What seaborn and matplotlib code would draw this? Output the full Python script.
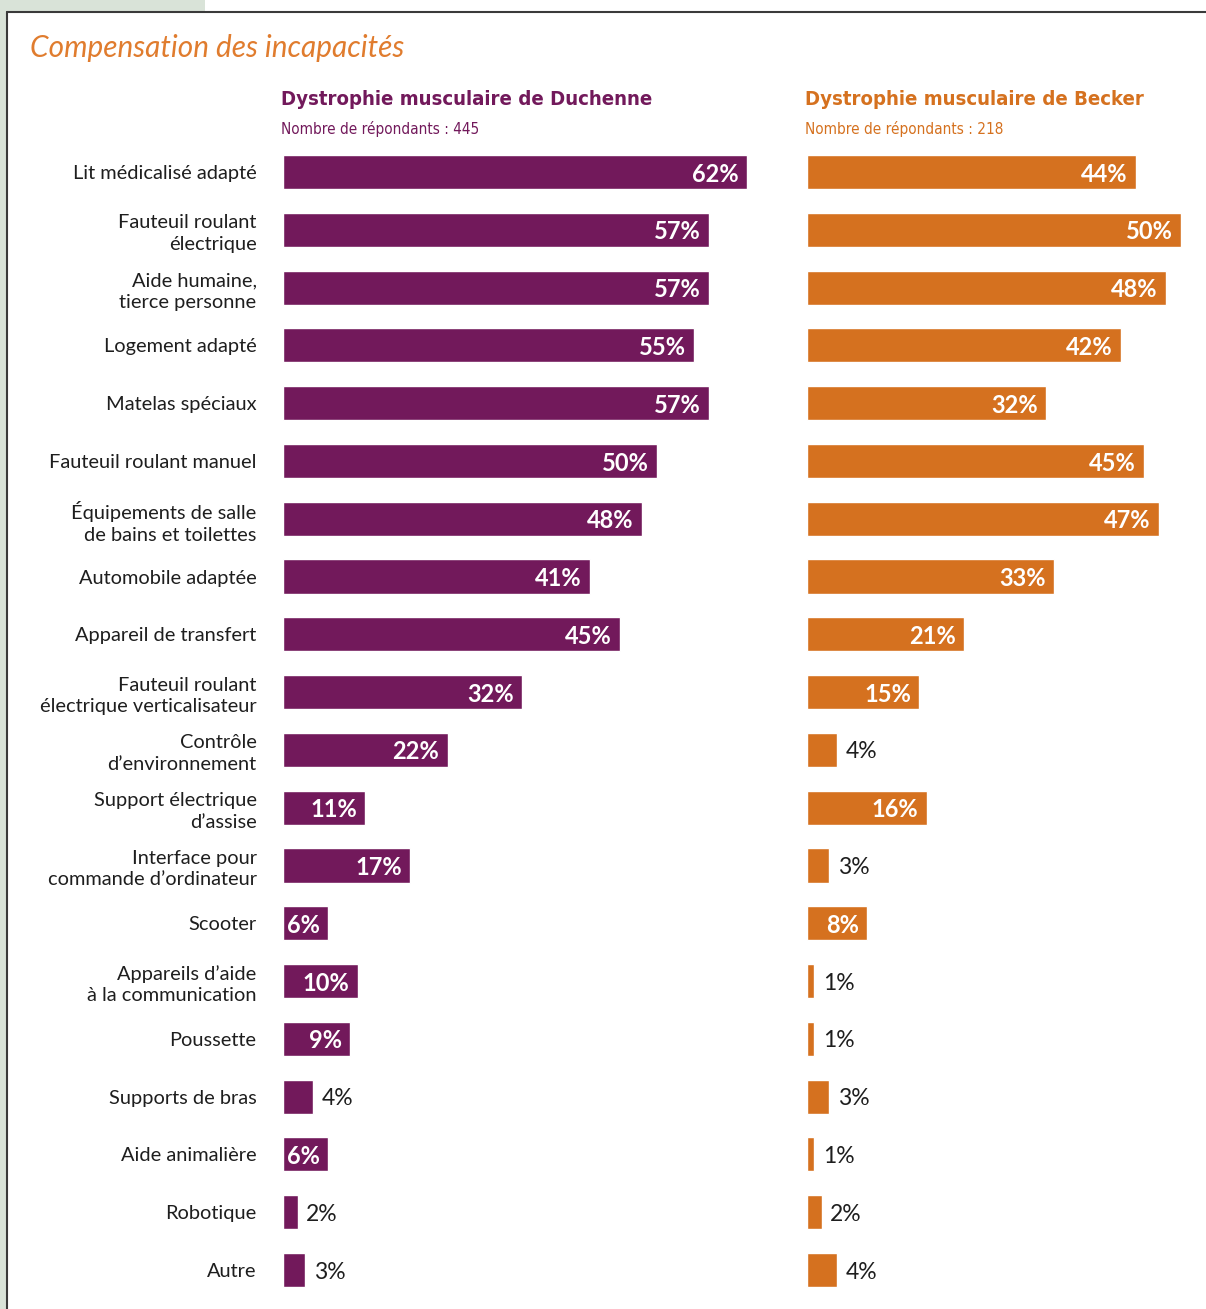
import matplotlib
matplotlib.use("Agg")
import matplotlib.pyplot as plt
from matplotlib import font_manager
from matplotlib.patches import Rectangle
from matplotlib.lines import Line2D
import seaborn as sns
import pandas as pd

# ---- data -------------------------------------------------------------
categories = [
    "Lit médicalisé adapté",
    "Fauteuil roulant\nélectrique",
    "Aide humaine,\ntierce personne",
    "Logement adapté",
    "Matelas spéciaux",
    "Fauteuil roulant manuel",
    "Équipements de salle\nde bains et toilettes",
    "Automobile adaptée",
    "Appareil de transfert",
    "Fauteuil roulant\nélectrique verticalisateur",
    "Contrôle\nd’environnement",
    "Support électrique\nd’assise",
    "Interface pour\ncommande d’ordinateur",
    "Scooter",
    "Appareils d’aide\nà la communication",
    "Poussette",
    "Supports de bras",
    "Aide animalière",
    "Robotique",
    "Autre",
]
duchenne = [62, 57, 57, 55, 57, 50, 48, 41, 45, 32, 22, 11, 17, 6, 10, 9, 4, 6, 2, 3]
becker = [44, 50, 48, 42, 32, 45, 47, 33, 21, 15, 4, 16, 3, 8, 1, 1, 3, 1, 2, 4]

title = "Compensation des incapacités"
group_titles = ["Dystrophie musculaire de Duchenne", "Dystrophie musculaire de Becker"]
group_counts = ["Nombre de répondants : 445", "Nombre de répondants : 218"]

PURPLE = "#72195B"
ORANGE = "#D5711F"
TITLE_ORANGE = "#E07C2E"

sns.set_theme(style="white")
plt.rcParams["font.family"] = ["Lato", "DejaVu Sans"]


def narrow_font(bold):
    """Pick an installed upright condensed/narrow face for the panel headers."""
    cands = []
    for f in font_manager.fontManager.ttflist:
        name = f"{f.name} {f.fname}".lower()
        if "condensed" in name or "narrow" in name or f.stretch in ("condensed", "semi-condensed"):
            w = f.weight if isinstance(f.weight, int) else 400
            italic = f.style != "normal" or "oblique" in name or "italic" in name
            cands.append((italic, abs(w - (700 if bold else 400)), f.fname))
    if not cands:
        return None
    cands.sort()
    return font_manager.FontProperties(fname=cands[0][2])


W, H = 1206, 1309
fig = plt.figure(figsize=(W / 100, H / 100), dpi=100)


def px_axes(x0, y0, x1, y1):
    return fig.add_axes([x0 / W, 1 - y1 / H, (x1 - x0) / W, (y1 - y0) / H])


# frame decoration
fig.patches.append(Rectangle((0, 1 - 12 / H), 205 / W, 12 / H, transform=fig.transFigure,
                             facecolor="#D9E3D8", edgecolor="none", zorder=0))
fig.patches.append(Rectangle((0, 0), 7 / W, 1, transform=fig.transFigure,
                             facecolor="#D9E3D8", edgecolor="none", zorder=0))
fig.lines.append(Line2D([7 / W, 1], [1 - 12 / H, 1 - 12 / H], transform=fig.transFigure,
                        color="#3A3A3A", lw=1.5))
fig.lines.append(Line2D([7 / W, 7 / W], [0, 1 - 12 / H], transform=fig.transFigure,
                        color="#3A3A3A", lw=1.5))

PX_PER_PCT = 7.48
row = 57.79
top = 172 - row / 2
bottom = 1270 + row / 2

panels = [
    (283, 780, duchenne, PURPLE),
    (807, 1206, becker, ORANGE),
]

head_bold = narrow_font(True)
head_reg = narrow_font(False)

for i, (x0, x1, vals, col) in enumerate(panels):
    ax = px_axes(x0, top, x1, bottom)
    df = pd.DataFrame({"cat": categories, "val": vals})
    sns.barplot(data=df, x="val", y="cat", color=col, saturation=1, width=0.59,
                orient="h", ax=ax)
    ax.set_xlim(0, (x1 - x0) / PX_PER_PCT)
    ax.set_ylim(len(categories) - 0.5, -0.5)
    ax.set_xlabel("")
    ax.set_ylabel("")
    ax.set_xticks([])
    sns.despine(ax=ax, left=True, bottom=True)
    ax.patch.set_alpha(0)
    if i == 0:
        ax.tick_params(axis="y", length=0, pad=19)
        for t in ax.get_yticklabels():
            t.set_fontsize(14.4)
            t.set_color("#1E1E1E")
            t.set_ha("right")
            t.set_linespacing(1.32)
    else:
        ax.set_yticks([])
    for j, v in enumerate(vals):
        if v >= 5:
            ax.annotate(f"{v}%", xy=(v, j), xytext=(-6, -1.5), textcoords="offset points",
                        ha="right", va="center", color="white", fontsize=17,
                        fontweight="bold")
        else:
            ax.annotate(f"{v}%", xy=(v, j), xytext=(6, -1.5), textcoords="offset points",
                        ha="left", va="center", color="#1E1E1E", fontsize=16.5)

    if head_bold is not None:
        hb = head_bold.copy()
        hb.set_size(14.6)
        hr = head_reg.copy()
        hr.set_size(11)
    else:
        hb = font_manager.FontProperties(family="DejaVu Sans", weight="bold", size=12.5)
        hr = font_manager.FontProperties(family="DejaVu Sans", size=10)
    fig.text(x0 / W - 2 / W, 1 - 105 / H, group_titles[i], color=col, fontproperties=hb,
             ha="left", va="baseline")
    fig.text(x0 / W - 2 / W, 1 - 134 / H, group_counts[i], color=col, fontproperties=hr,
             ha="left", va="baseline")

fig.text(30 / W, 1 - 57 / H, title, color=TITLE_ORANGE, fontsize=21.4, style="italic",
         fontweight="normal", ha="left", va="baseline")

fig.savefig("out.png", dpi=100)
